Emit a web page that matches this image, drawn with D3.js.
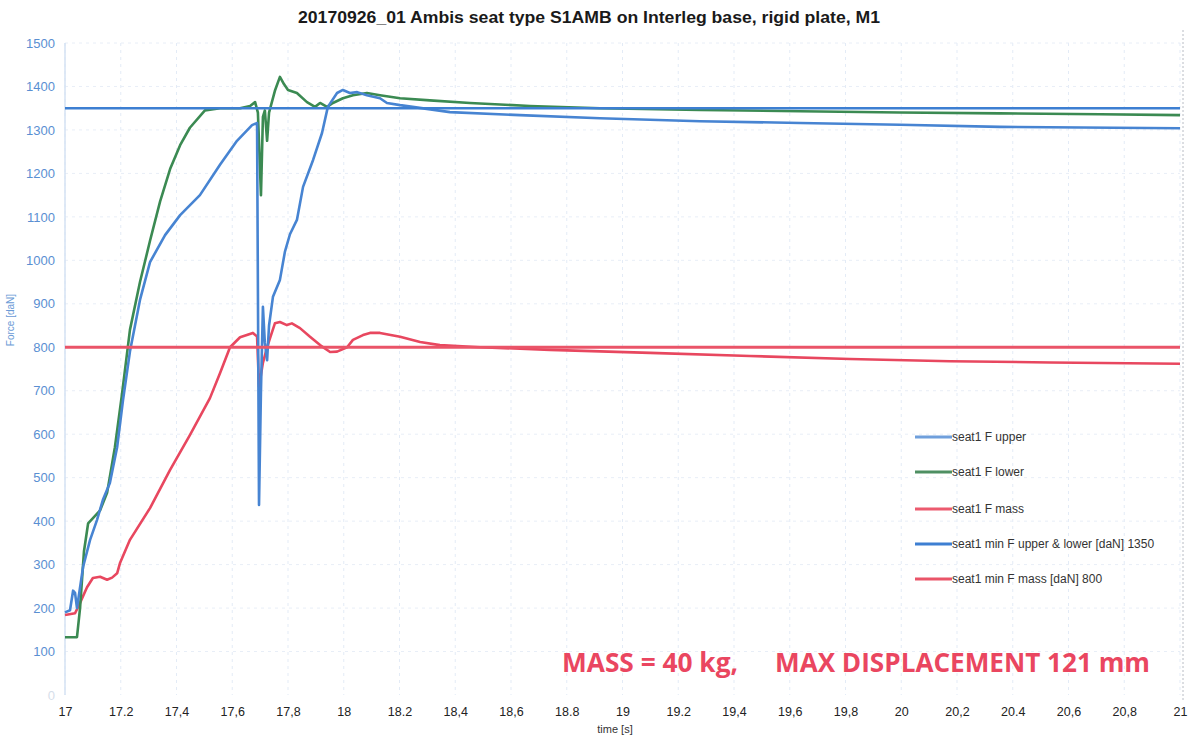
<!DOCTYPE html>
<html>
<head>
<meta charset="utf-8">
<script src="https://cdn.jsdelivr.net/npm/d3@7"></script>
<style>
  html, body { margin: 0; padding: 0; background: #ffffff; }
  svg { display: block; }
</style>
</head>
<body>
<svg id="chart" width="1193" height="740"></svg>
<script>
// ---------- DATA ----------
const titleText = "20170926_01  Ambis seat type S1AMB on Interleg base, rigid plate, M1";
const xTicks = [17, 17.2, 17.4, 17.6, 17.8, 18, 18.2, 18.4, 18.6, 18.8, 19, 19.2, 19.4, 19.6, 19.8, 20, 20.2, 20.4, 20.6, 20.8, 21];
const xTickLabels = ["17", "17.2", "17,4", "17,6", "17,8", "18", "18.2", "18,4", "18,6", "18.8", "19", "19.2", "19,4", "19,6", "19,8", "20", "20,2", "20.4", "20,6", "20,8", "21"];
const yTicks = [0, 100, 200, 300, 400, 500, 600, 700, 800, 900, 1000, 1100, 1200, 1300, 1400, 1500];

const timeUpper = [17.000, 17.018, 17.029, 17.036, 17.043, 17.065, 17.090, 17.115, 17.136, 17.161, 17.187, 17.208, 17.233, 17.269, 17.305, 17.359, 17.413, 17.484, 17.556, 17.617, 17.671, 17.689, 17.696, 17.703, 17.710, 17.717, 17.725, 17.732, 17.746, 17.771, 17.789, 17.807, 17.832, 17.854, 17.890, 17.922, 17.943, 17.976, 17.997, 18.022, 18.048, 18.083, 18.130, 18.155, 18.202, 18.381, 18.632, 18.919, 19.278, 19.637, 19.995, 20.354, 21.000];
const forceUpper = [190, 195, 240, 235, 200, 295, 357, 403, 449, 488, 570, 678, 790, 909, 996, 1058, 1104, 1150, 1220, 1275, 1311, 1316, 437, 700, 893, 810, 770, 850, 916, 955, 1020, 1060, 1093, 1169, 1231, 1293, 1353, 1385, 1392, 1385, 1387, 1380, 1373, 1362, 1357, 1341, 1334, 1327, 1320, 1316, 1312, 1307, 1304];

const timeLower = [17.000, 17.043, 17.054, 17.068, 17.083, 17.126, 17.151, 17.179, 17.204, 17.233, 17.269, 17.305, 17.341, 17.377, 17.413, 17.448, 17.502, 17.556, 17.628, 17.664, 17.682, 17.692, 17.703, 17.710, 17.717, 17.725, 17.732, 17.753, 17.771, 17.786, 17.800, 17.832, 17.868, 17.897, 17.915, 17.940, 17.961, 17.997, 18.033, 18.083, 18.130, 18.202, 18.309, 18.453, 18.668, 18.919, 19.278, 19.637, 19.995, 20.354, 20.713, 21.000];
const forceLower = [133, 133, 200, 330, 395, 425, 465, 570, 690, 840, 950, 1045, 1135, 1210, 1265, 1305, 1345, 1350, 1350, 1355, 1364, 1340, 1150, 1330, 1345, 1275, 1340, 1390, 1422, 1405, 1392, 1385, 1364, 1353, 1362, 1353, 1362, 1373, 1380, 1385, 1380, 1373, 1368, 1362, 1355, 1350, 1346, 1343, 1340, 1338, 1336, 1334];

const timeMass = [17.000, 17.036, 17.054, 17.079, 17.100, 17.126, 17.151, 17.169, 17.187, 17.197, 17.233, 17.305, 17.377, 17.448, 17.520, 17.556, 17.592, 17.628, 17.674, 17.689, 17.696, 17.710, 17.725, 17.735, 17.753, 17.771, 17.796, 17.814, 17.843, 17.879, 17.915, 17.951, 17.976, 18.012, 18.033, 18.069, 18.094, 18.130, 18.202, 18.274, 18.345, 18.489, 18.740, 19.099, 19.457, 19.816, 20.175, 20.534, 21.000];
const forceMass = [184, 188, 212, 248, 269, 272, 265, 270, 280, 303, 357, 430, 518, 598, 683, 740, 800, 823, 833, 825, 709, 764, 800, 820, 855, 858, 851, 855, 844, 824, 805, 789, 790, 800, 817, 828, 833, 833, 824, 812, 805, 800, 794, 787, 780, 773, 768, 765, 762];

const limitUpperLower = 1350;
const limitMass = 800;

const legendLabels = ["seat1 F upper", "seat1 F lower", "seat1 F mass", "seat1 min F upper & lower [daN] 1350", "seat1 min F mass [daN] 800"];

// ---------- LAYOUT / STYLE ----------
const colors = {
  upper: "#4784d2",
  lower: "#3b8a52",
  mass: "#e8475f",
  limitBlue: "#3d7fd2",
  limitRed: "#ea5468",
  legendUpper: "#6f9fdc",
  legendLower: "#4e8f62",
  legendMass: "#ec5a6e"
};
const font = "'Liberation Sans', Arial, sans-serif";

const svg = d3.select("#chart");
const x = d3.scaleLinear().domain([17, 21]).range([65, 1180]);
const y = d3.scaleLinear().domain([0, 1500]).range([695, 43]);

// gridlines
const grid = svg.append("g");
grid.selectAll("line.v").data(xTicks).join("line")
  .attr("x1", d => x(d)).attr("x2", d => x(d))
  .attr("y1", y(1500)).attr("y2", y(0))
  .attr("stroke", "#e3ebf6").attr("stroke-width", 1).attr("stroke-dasharray", "3,4");
grid.selectAll("line.h").data(yTicks.filter(d => d > 0)).join("line")
  .attr("x1", x(17)).attr("x2", x(21))
  .attr("y1", d => y(d)).attr("y2", d => y(d))
  .attr("stroke", "#e8eef7").attr("stroke-width", 1).attr("stroke-dasharray", "3,4");

// left axis line and right frame line
svg.append("line").attr("x1", x(17)).attr("x2", x(17)).attr("y1", y(1500)).attr("y2", y(0))
  .attr("stroke", "#d4e2f3").attr("stroke-width", 1.5);
svg.append("line").attr("x1", 1183).attr("x2", 1183).attr("y1", 30).attr("y2", 700)
  .attr("stroke", "#b8bcc4").attr("stroke-width", 1).attr("stroke-dasharray", "2,2");

// y axis
const yAxis = d3.axisLeft(y).tickValues(yTicks).tickSize(0).tickPadding(10).tickFormat(d3.format("d"));
const yg = svg.append("g").attr("transform", `translate(${x(17)},0)`).call(yAxis);
yg.select(".domain").remove();
yg.selectAll("text")
  .attr("fill", d => d === 0 ? "#d6deea" : "#5a8fd2")
  .style("font-family", font)
  .style("font-size", "13px");

// x axis
const xAxis = d3.axisBottom(x).tickValues(xTicks).tickSize(0).tickPadding(12)
  .tickFormat((d, i) => xTickLabels[i]);
const xg = svg.append("g").attr("transform", `translate(0,${y(0)})`).call(xAxis);
xg.select(".domain").remove();
xg.selectAll("text")
  .attr("fill", "#222")
  .style("font-family", font)
  .style("font-size", "12.5px");

// axis titles
svg.append("text").attr("x", 615).attr("y", 733).attr("text-anchor", "middle")
  .attr("fill", "#333").style("font-family", font).style("font-size", "11px")
  .text("time [s]");
svg.append("text").attr("transform", "translate(14,320) rotate(-90)").attr("text-anchor", "middle")
  .attr("fill", "#6a9ad6").style("font-family", font).style("font-size", "10px")
  .text("Force [daN]");

// title
svg.append("text").attr("x", 298).attr("y", 23)
  .attr("textLength", 582).attr("lengthAdjust", "spacingAndGlyphs")
  .attr("fill", "#1a1a1a").style("font-family", font)
  .style("font-size", "16px").style("font-weight", "bold")
  .text(titleText);

// series
const line = d3.line().x(d => x(d[0])).y(d => y(d[1]));
const zip = (t, v) => t.map((tt, i) => [tt, v[i]]);

svg.append("path").datum(zip(timeMass, forceMass)).attr("d", line)
  .attr("fill", "none").attr("stroke", colors.mass).attr("stroke-width", 2.6).attr("stroke-linejoin", "round");
svg.append("path").datum(zip(timeLower, forceLower)).attr("d", line)
  .attr("fill", "none").attr("stroke", colors.lower).attr("stroke-width", 2.6).attr("stroke-linejoin", "round");
svg.append("path").datum(zip(timeUpper, forceUpper)).attr("d", line)
  .attr("fill", "none").attr("stroke", colors.upper).attr("stroke-width", 2.6).attr("stroke-linejoin", "round");

// limit lines
svg.append("line").attr("x1", x(17)).attr("x2", x(21)).attr("y1", y(limitUpperLower)).attr("y2", y(limitUpperLower))
  .attr("stroke", colors.limitBlue).attr("stroke-width", 2.6);
svg.append("line").attr("x1", x(17)).attr("x2", x(21)).attr("y1", y(limitMass)).attr("y2", y(limitMass))
  .attr("stroke", colors.limitRed).attr("stroke-width", 3);

// legend
const legColors = [colors.legendUpper, colors.legendLower, colors.legendMass, colors.limitBlue, colors.limitRed];
const legY = [437, 472, 509, 544, 579];
const leg = svg.append("g");
legendLabels.forEach((lab, i) => {
  leg.append("line").attr("x1", 915).attr("x2", 952).attr("y1", legY[i]).attr("y2", legY[i])
    .attr("stroke", legColors[i]).attr("stroke-width", 3);
  leg.append("text").attr("x", 952).attr("y", legY[i] + 4)
    .attr("fill", "#333").style("font-family", font).style("font-size", "12px")
    .text(lab);
});

// annotation
const ann = svg.append("g").attr("fill", "#ea4660")
  .style("font-family", "'Open Sans', 'Liberation Sans', sans-serif").style("font-weight", "bold").style("font-size", "26px");
ann.append("text").attr("x", 562).attr("y", 672).attr("textLength", 176).attr("lengthAdjust", "spacingAndGlyphs").text("MASS = 40 kg,");
ann.append("text").attr("x", 775).attr("y", 672).attr("textLength", 375).attr("lengthAdjust", "spacingAndGlyphs").text("MAX DISPLACEMENT 121 mm");
</script>
</body>
</html>
